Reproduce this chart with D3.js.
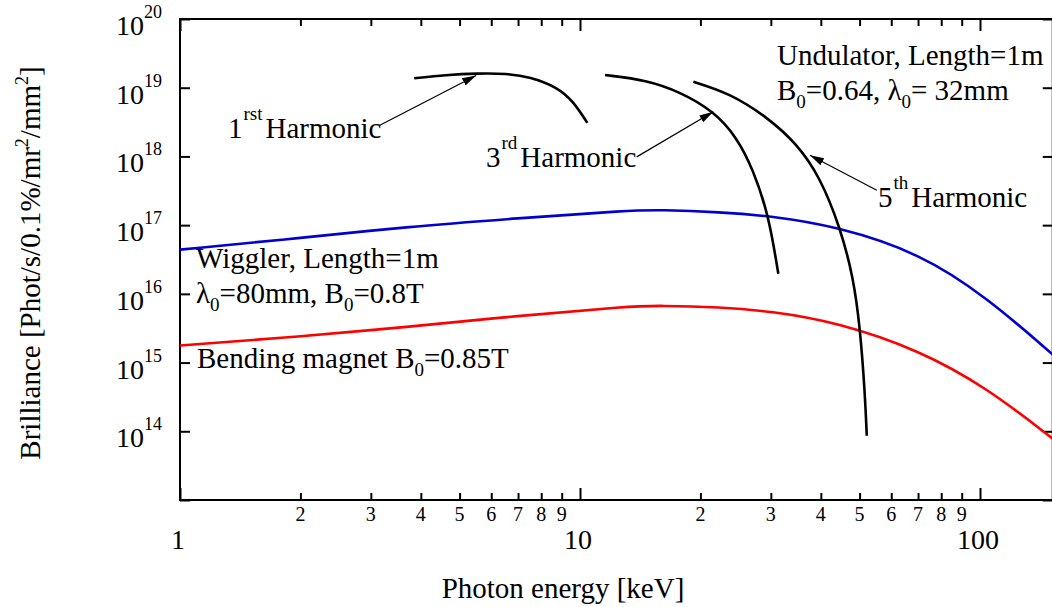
<!DOCTYPE html>
<html>
<head>
<meta charset="utf-8">
<script src="https://cdn.jsdelivr.net/npm/d3@7"></script>
<style>
  html, body { margin: 0; padding: 0; background: #fff; }
  svg { display: block; }
  text { font-family: "Liberation Serif", "Times New Roman", Times, serif; fill: #000; }
</style>
</head>
<body>
<svg id="chart" width="1052" height="607"></svg>
<script>
// ---------------- data ----------------
const wigglerEnergy = [1, 2, 3.65, 7, 13.3, 15.8, 22.4, 29.9, 43.9, 70.8, 104, 152];
const wigglerBrill  = [4.4e16, 6.5e16, 9.4e16, 1.26e17, 1.64e17, 1.67e17, 1.55e17, 1.36e17, 9.6e16, 3.9e16, 8.9e15, 1.31e15];

const bendingEnergy = [1, 2, 3.65, 7, 13.3, 15.8, 22.4, 29.9, 43.9, 70.8, 104, 152];
const bendingBrill  = [1.77e15, 2.4e15, 3.27e15, 4.8e15, 6.6e15, 6.76e15, 6.4e15, 5.6e15, 3.87e15, 1.5e15, 4.3e14, 7.8e13];

const harm1Energy = [3.85, 4.62, 5.52, 6.56, 7.50, 8.74, 9.62, 10.43];
const harm1Brill  = [1.37e19, 1.53e19, 1.62e19, 1.61e19, 1.44e19, 1.03e19, 6.4e18, 3.08e18];

const harm3Energy = [11.55, 14.69, 17.78, 21.54, 24.65, 27.13, 29.30, 30.43, 31.32];
const harm3Brill  = [1.53e19, 1.29e19, 8.7e18, 4.6e18, 1.92e18, 6.3e17, 1.64e17, 5.4e16, 1.96e16];

const harm5Energy = [19.20, 23.71, 29.30, 34.82, 39.81, 44.67, 48.24, 50.12, 51.58, 52.11];
const harm5Brill  = [1.22e19, 8.26e18, 3.77e18, 1.54e18, 5.02e17, 9.4e16, 1.75e16, 3.27e15, 3.5e14, 8.6e13];

const xMajorTicks = [1, 10, 100];
const xMinorTicks = [2, 3, 4, 5, 6, 7, 8, 9, 20, 30, 40, 50, 60, 70, 80, 90];
const yTickExponents = [13, 14, 15, 16, 17, 18, 19, 20];
const yLabelExponents = ["14", "15", "16", "17", "18", "19", "20"];

const xTitle = "Photon energy [keV]";

// arrows: [tailE, tailB, tipE, tipB]
const arrow1 = [3.16, 2.85e18, 5.5, 1.51e19];
const arrow3 = [13.86, 9.85e17, 21.54, 4.46e18];
const arrow5 = [55.2, 3.21e17, 37.58, 1.04e18];

// ---------------- scales ----------------
const svg = d3.select("#chart");
const x = d3.scaleLog().domain([1, 152]).range([180, 180 + 400 * Math.log10(152)]);
const y = d3.scaleLog().domain([1e13, 1e20]).range([500, 19]);

const W = 1052;
const FONT = 29;

// ---------------- frame & axes ----------------
const g = svg.append("g");

function styleAxis(sel) {
  sel.select(".domain").remove();
  sel.selectAll(".tick line").attr("stroke", "#000").attr("stroke-width", 2);
  sel.selectAll(".tick text").remove();
}

g.append("g").attr("transform", "translate(0,500)")
  .call(d3.axisBottom(x).tickValues(xMajorTicks).tickSize(-12).tickFormat(""))
  .call(styleAxis);
g.append("g").attr("transform", "translate(0,500)")
  .call(d3.axisBottom(x).tickValues(xMinorTicks).tickSize(-7).tickFormat(""))
  .call(styleAxis);
g.append("g").attr("transform", "translate(0,19)")
  .call(d3.axisTop(x).tickValues(xMajorTicks).tickSize(-12).tickFormat(""))
  .call(styleAxis);
g.append("g").attr("transform", "translate(0,19)")
  .call(d3.axisTop(x).tickValues(xMinorTicks).tickSize(-7).tickFormat(""))
  .call(styleAxis);
const yTicks = yTickExponents.map(e => Math.pow(10, e));
g.append("g").attr("transform", "translate(180,0)")
  .call(d3.axisLeft(y).tickValues(yTicks).tickSize(-10).tickFormat(""))
  .call(styleAxis);
g.append("g").attr("transform", `translate(${x.range()[1]},0)`)
  .call(d3.axisRight(y).tickValues(yTicks).tickSize(-10).tickFormat(""))
  .call(styleAxis);

g.append("rect")
  .attr("x", 180).attr("y", 19)
  .attr("width", x.range()[1] - 180).attr("height", 500 - 19)
  .attr("fill", "none").attr("stroke", "#000").attr("stroke-width", 2);

// x tick labels
g.selectAll("text.xmin").data(xMinorTicks).enter().append("text")
  .attr("class", "xmin")
  .attr("x", d => x(d)).attr("y", 521)
  .attr("text-anchor", "middle").attr("font-size", 20)
  .text(d => String(d).charAt(0));
g.selectAll("text.xmaj").data(xMajorTicks).enter().append("text")
  .attr("class", "xmaj")
  .attr("x", d => x(d) - 2).attr("y", 549)
  .attr("text-anchor", "middle").attr("font-size", 28)
  .text(d => String(d));

// y tick labels
yLabelExponents.forEach(e => {
  const t = g.append("text")
    .attr("x", 162).attr("y", y(Math.pow(10, +e)) + 16)
    .attr("text-anchor", "end").attr("font-size", 28);
  t.append("tspan").text("10");
  t.append("tspan").attr("font-size", 18).attr("dy", -17).text(e);
});

// axis titles
g.append("text")
  .attr("x", 563).attr("y", 598)
  .attr("text-anchor", "middle").attr("font-size", FONT)
  .text(xTitle);

const yt = g.append("text")
  .attr("transform", "translate(40,263) rotate(-90)")
  .attr("text-anchor", "middle").attr("font-size", FONT);
yt.append("tspan").text("Brilliance [Phot/s/0.1%/mr");
yt.append("tspan").attr("font-size", 18).attr("dy", -12).text("2");
yt.append("tspan").attr("dy", 12).text("/mm");
yt.append("tspan").attr("font-size", 18).attr("dy", -12).text("2");
yt.append("tspan").attr("dy", 12).text("]");

// ---------------- curves ----------------
function series(E, B) { return E.map((e, i) => [e, B[i]]); }

const line = d3.line()
  .x(d => x(d[0])).y(d => y(d[1]))
  .curve(d3.curveBasis);

svg.append("clipPath").attr("id", "clip")
  .append("rect").attr("x", 180).attr("y", 19).attr("width", W).attr("height", 481);

const curves = svg.append("g").attr("clip-path", "url(#clip)");
curves.append("path").datum(series(wigglerEnergy, wigglerBrill))
  .attr("d", line).attr("fill", "none").attr("stroke", "#0000d0").attr("stroke-width", 2.6);
curves.append("path").datum(series(bendingEnergy, bendingBrill))
  .attr("d", line).attr("fill", "none").attr("stroke", "#ff0000").attr("stroke-width", 2.6);
[[harm1Energy, harm1Brill], [harm3Energy, harm3Brill], [harm5Energy, harm5Brill]].forEach(([E, B]) => {
  curves.append("path").datum(series(E, B))
    .attr("d", line).attr("fill", "none").attr("stroke", "#000").attr("stroke-width", 2.6);
});

// ---------------- annotations ----------------
svg.append("defs").append("marker")
  .attr("id", "arrow").attr("markerUnits", "userSpaceOnUse")
  .attr("markerWidth", 16).attr("markerHeight", 10)
  .attr("refX", 14).attr("refY", 4).attr("orient", "auto")
  .append("path").attr("d", "M0,0 L14,4 L0,8 Z").attr("fill", "#000");

[arrow1, arrow3, arrow5].forEach(a => {
  svg.append("line")
    .attr("x1", x(a[0])).attr("y1", y(a[1]))
    .attr("x2", x(a[2])).attr("y2", y(a[3]))
    .attr("stroke", "#000").attr("stroke-width", 1.2)
    .attr("marker-end", "url(#arrow)");
});

function richText(xp, yp, parts) {
  const t = svg.append("text").attr("x", xp).attr("y", yp).attr("font-size", FONT);
  let shift = 0;
  parts.forEach(p => {
    const target = p.sup ? -18 : p.sub ? 8 : 0;
    const s = t.append("tspan").text(p.t).attr("dy", target - shift);
    if (p.dx) s.attr("dx", p.dx);
    if (p.sup || p.sub) s.attr("font-size", 19);
    shift = target;
  });
  return t;
}

richText(228, 138, [{t: "1"}, {t: "rst", sup: true, dx: 1}, {t: "Harmonic", dx: 3}]);
richText(486, 167, [{t: "3"}, {t: "rd", sup: true, dx: 1}, {t: "Harmonic", dx: 3}]);
richText(878, 207, [{t: "5"}, {t: "th", sup: true, dx: 1}, {t: "Harmonic", dx: 3}]);
richText(777, 65, [{t: "Undulator, Length=1m"}]);
richText(777, 100, [{t: "B"}, {t: "0", sub: true}, {t: "=0.64, λ"}, {t: "0", sub: true}, {t: "= 32mm"}]);
richText(196, 268, [{t: "Wiggler, Length=1m"}]);
richText(196, 303, [{t: "λ"}, {t: "0", sub: true}, {t: "=80mm, B"}, {t: "0", sub: true}, {t: "=0.8T"}]);
richText(197, 368, [{t: "Bending magnet B"}, {t: "0", sub: true}, {t: "=0.85T"}]);
</script>
</body>
</html>
